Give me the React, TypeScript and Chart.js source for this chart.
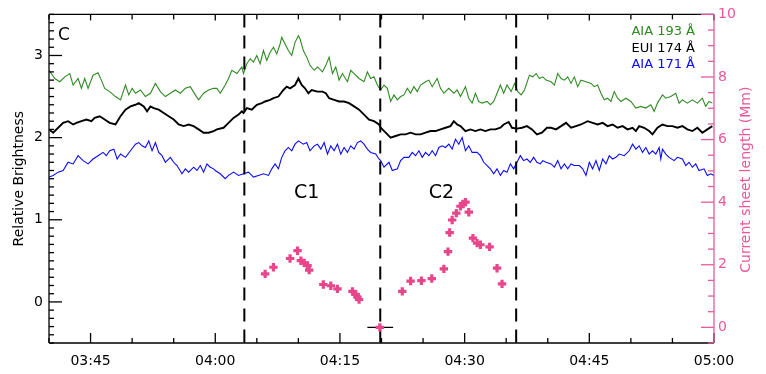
import React, { useEffect, useRef } from 'react';
import { Chart, registerables } from 'chart.js';
Chart.register(...registerables);

const FONT = '"DejaVu Sans", Verdana, sans-serif';
const GREEN = '#2f8a23';
const BLUE = '#0a0aff';
const PINK = '#e8468b';
const PINK_AXIS = '#e9589b';

// x = minutes after 03:40
const xTickTimes = [5, 20, 35, 50, 65, 80];
const xTickLabels = ['03:45', '04:00', '04:15', '04:30', '04:45', '05:00'];
const yTickValues = [0, 1, 2, 3];
const y2TickValues = [0, 2, 4, 6, 8, 10];
const eventTimes = [23.5, 39.85, 56.2];

const aia193: number[][] = [
  [0.0,2.82],[0.7,2.72],[1.3,2.68],[1.9,2.74],[2.5,2.78],[2.9,2.64],[3.5,2.72],[3.9,2.60],[4.3,2.72],[4.7,2.60],
  [5.3,2.76],[5.9,2.79],[6.3,2.70],[6.7,2.60],[7.3,2.56],[8.0,2.50],[8.6,2.46],[9.2,2.64],[9.6,2.52],[10.0,2.60],
  [10.4,2.54],[11.0,2.58],[11.6,2.50],[12.2,2.54],[12.8,2.66],[13.4,2.56],[14.0,2.50],[14.6,2.54],[15.2,2.58],[15.8,2.54],
  [16.4,2.60],[17.0,2.62],[17.6,2.52],[18.0,2.46],[18.6,2.54],[19.2,2.58],[19.8,2.60],[20.2,2.60],[20.6,2.54],[21.2,2.64],
  [21.6,2.72],[22.0,2.82],[22.6,2.78],[23.2,2.86],[23.4,2.78],[23.8,2.90],[24.2,2.96],[24.6,2.92],[25.0,3.00],[25.4,2.90],
  [25.8,3.06],[26.2,2.94],[26.6,3.04],[27.0,3.10],[27.4,3.02],[27.8,3.14],[28.0,3.22],[28.4,3.14],[28.8,3.06],[29.2,3.00],
  [29.6,3.16],[30.0,3.24],[30.2,3.20],[30.6,3.06],[31.0,2.98],[31.4,2.88],[31.9,2.82],[32.3,2.86],[32.9,2.80],[33.3,2.88],
  [33.7,2.98],[34.1,2.78],[34.5,2.86],[34.9,2.70],[35.3,2.78],[35.9,2.68],[36.3,2.82],[36.7,2.78],[37.3,2.72],[37.9,2.68],
  [38.3,2.80],[38.7,2.72],[39.1,2.74],[39.5,2.64],[39.9,2.58],[40.3,2.64],[40.7,2.60],[41.1,2.44],[41.5,2.52],[41.9,2.46],
  [42.3,2.50],[42.7,2.52],[43.1,2.60],[43.5,2.54],[43.9,2.62],[44.3,2.56],[44.7,2.64],[45.3,2.68],[45.7,2.70],[46.1,2.62],
  [46.7,2.72],[47.1,2.60],[47.5,2.54],[48.1,2.60],[48.7,2.54],[49.1,2.58],[49.5,2.50],[50.1,2.62],[50.5,2.48],[50.9,2.42],
  [51.3,2.54],[51.7,2.44],[52.1,2.42],[52.7,2.44],[53.1,2.40],[53.5,2.44],[53.9,2.54],[54.3,2.64],[54.7,2.54],[55.1,2.64],
  [55.6,2.56],[56.0,2.66],[56.4,2.56],[56.8,2.52],[57.2,2.58],[57.8,2.76],[58.2,2.74],[58.6,2.78],[59.0,2.72],[59.4,2.74],
  [59.8,2.70],[60.4,2.68],[60.8,2.64],[61.2,2.78],[61.6,2.72],[62.0,2.70],[62.4,2.74],[62.8,2.66],[63.2,2.74],[63.6,2.62],
  [64.0,2.70],[64.6,2.68],[65.2,2.66],[65.6,2.62],[66.0,2.64],[66.4,2.54],[66.8,2.46],[67.2,2.48],[67.6,2.44],[68.0,2.56],
  [68.4,2.48],[68.8,2.44],[69.4,2.48],[70.0,2.44],[70.6,2.36],[71.2,2.38],[71.8,2.36],[72.4,2.40],[72.8,2.32],[73.2,2.42],
  [73.8,2.52],[74.2,2.48],[74.8,2.50],[75.4,2.54],[75.8,2.42],[76.2,2.46],[76.8,2.42],[77.4,2.46],[78.0,2.42],[78.6,2.48],
  [79.0,2.38],[79.4,2.44],[79.8,2.42]
];

const eui174: number[][] = [
  [0.0,2.10],[0.5,2.06],[1.1,2.12],[1.7,2.18],[2.3,2.20],[2.9,2.16],[3.3,2.18],[3.9,2.20],[4.5,2.22],[5.1,2.20],
  [5.5,2.24],[6.1,2.26],[6.7,2.22],[7.3,2.18],[8.0,2.16],[8.6,2.26],[9.2,2.34],[9.8,2.38],[10.4,2.40],[10.8,2.42],
  [11.4,2.38],[11.8,2.32],[12.2,2.38],[12.6,2.36],[13.2,2.34],[13.8,2.30],[14.4,2.26],[15.0,2.22],[15.6,2.16],[16.2,2.14],
  [16.8,2.16],[17.4,2.14],[18.0,2.10],[18.6,2.06],[19.2,2.06],[19.8,2.08],[20.2,2.10],[21.0,2.12],[21.6,2.18],[22.2,2.24],
  [22.8,2.28],[23.2,2.32],[23.4,2.30],[23.8,2.36],[24.4,2.34],[25.0,2.40],[25.6,2.42],[26.0,2.44],[26.6,2.46],[27.0,2.48],
  [27.6,2.50],[28.2,2.58],[28.6,2.62],[29.0,2.60],[29.6,2.64],[30.0,2.72],[30.4,2.64],[30.8,2.60],[31.2,2.54],[31.6,2.58],
  [32.3,2.56],[32.9,2.56],[33.3,2.54],[33.7,2.48],[34.3,2.46],[34.9,2.44],[35.5,2.44],[36.1,2.42],[36.7,2.38],[37.3,2.34],
  [37.9,2.28],[38.5,2.22],[39.1,2.20],[39.7,2.16],[39.9,2.12],[40.5,2.06],[41.1,2.00],[41.7,2.02],[42.3,2.04],[42.9,2.04],
  [43.5,2.06],[44.1,2.04],[44.7,2.04],[45.3,2.06],[45.9,2.08],[46.5,2.08],[47.1,2.10],[47.7,2.12],[48.3,2.14],[48.7,2.20],
  [49.1,2.16],[49.5,2.14],[50.1,2.08],[50.7,2.10],[51.3,2.08],[51.9,2.10],[52.5,2.08],[53.1,2.10],[53.7,2.10],[54.3,2.12],
  [54.7,2.16],[55.3,2.19],[55.7,2.12],[56.3,2.11],[56.9,2.12],[57.5,2.14],[58.1,2.10],[58.7,2.04],[59.3,2.06],[59.9,2.12],
  [60.4,2.12],[61.0,2.10],[61.6,2.14],[62.2,2.18],[62.8,2.12],[63.4,2.14],[64.0,2.16],[64.8,2.20],[65.4,2.18],[66.0,2.16],
  [66.6,2.18],[67.2,2.14],[67.8,2.16],[68.4,2.12],[69.0,2.14],[69.6,2.10],[70.2,2.12],[70.6,2.08],[71.0,2.14],[71.6,2.12],
  [72.2,2.08],[72.6,2.04],[73.2,2.12],[73.8,2.16],[74.4,2.14],[75.0,2.14],[75.6,2.12],[76.2,2.14],[76.8,2.10],[77.4,2.08],
  [78.0,2.12],[78.6,2.06],[79.2,2.10],[79.8,2.14]
];

const aia171: number[][] = [
  [0.0,1.52],[0.5,1.54],[1.1,1.58],[1.7,1.60],[2.3,1.70],[2.9,1.68],[3.5,1.78],[4.1,1.72],[4.7,1.68],[5.3,1.74],
  [5.9,1.78],[6.5,1.82],[6.9,1.78],[7.3,1.84],[7.8,1.86],[8.2,1.74],[8.6,1.80],[9.2,1.76],[9.8,1.84],[10.4,1.92],
  [10.8,1.94],[11.2,1.90],[11.6,1.88],[12.0,1.96],[12.4,1.84],[12.8,1.94],[13.2,1.82],[13.6,1.78],[14.0,1.70],[14.6,1.76],
  [15.0,1.70],[15.4,1.66],[16.0,1.56],[16.4,1.62],[16.8,1.58],[17.4,1.64],[17.8,1.60],[18.2,1.66],[18.6,1.58],[19.0,1.68],
  [19.4,1.64],[19.8,1.62],[20.0,1.60],[20.6,1.56],[21.2,1.50],[21.6,1.54],[22.2,1.58],[22.8,1.54],[23.4,1.56],[24.0,1.58],
  [24.6,1.52],[25.2,1.54],[25.8,1.56],[26.4,1.54],[26.8,1.62],[27.2,1.68],[27.6,1.62],[28.0,1.76],[28.4,1.84],[28.8,1.88],
  [29.2,1.84],[29.6,1.92],[30.0,1.96],[30.6,1.92],[31.0,1.94],[31.4,1.84],[31.9,1.90],[32.3,1.92],[32.7,1.86],[33.1,1.94],
  [33.5,1.80],[33.9,1.90],[34.3,1.84],[34.7,1.92],[35.1,1.80],[35.5,1.88],[35.9,1.82],[36.3,1.90],[36.7,1.86],[37.1,1.94],
  [37.5,1.96],[37.9,1.92],[38.3,1.86],[38.7,1.82],[39.3,1.80],[39.7,1.74],[39.9,1.72],[40.3,1.64],[40.9,1.70],[41.3,1.60],
  [41.9,1.62],[42.3,1.72],[42.7,1.76],[43.3,1.76],[43.7,1.82],[44.1,1.78],[44.5,1.84],[44.9,1.76],[45.3,1.82],[45.7,1.78],
  [46.1,1.84],[46.5,1.78],[46.9,1.88],[47.3,1.90],[47.7,1.88],[48.1,1.92],[48.5,1.86],[48.9,1.98],[49.3,1.92],[49.7,2.00],
  [50.1,1.84],[50.5,1.90],[50.9,1.82],[51.5,1.82],[51.9,1.78],[52.3,1.70],[52.7,1.66],[53.1,1.62],[53.5,1.56],[53.9,1.62],
  [54.3,1.54],[54.7,1.60],[55.1,1.58],[55.5,1.68],[55.9,1.62],[56.3,1.70],[56.7,1.78],[57.1,1.72],[57.5,1.74],[57.9,1.70],
  [58.3,1.76],[58.7,1.70],[59.1,1.68],[59.4,1.72],[59.8,1.70],[60.4,1.68],[60.8,1.64],[61.2,1.72],[61.6,1.62],[62.0,1.68],
  [62.4,1.62],[62.8,1.68],[63.2,1.66],[63.8,1.66],[64.2,1.62],[64.6,1.54],[65.0,1.70],[65.4,1.62],[65.8,1.72],[66.2,1.60],
  [66.6,1.74],[67.0,1.68],[67.4,1.78],[67.8,1.74],[68.2,1.76],[68.6,1.80],[69.2,1.78],[69.8,1.84],[70.2,1.92],[70.6,1.86],
  [71.0,1.90],[71.4,1.82],[71.8,1.88],[72.2,1.80],[72.6,1.84],[73.0,1.80],[73.4,1.88],[73.6,1.74],[73.8,1.86],[74.2,1.80],
  [74.6,1.76],[75.2,1.72],[75.6,1.76],[76.2,1.74],[76.6,1.66],[77.0,1.70],[77.4,1.64],[77.8,1.68],[78.2,1.60],[78.8,1.62],
  [79.2,1.54],[79.6,1.56],[80.0,1.54]
];

// current sheet length (Mm)
const sheetLength: number[][] = [
  [26.0,1.71],[27.0,1.92],[29.0,2.20],[29.9,2.45],[30.3,2.13],[30.7,2.06],[31.1,1.97],[31.3,1.83],[33.0,1.37],[33.9,1.33],
  [34.7,1.23],[36.5,1.15],[36.9,1.05],[37.1,0.97],[37.3,0.89],[39.8,0.0],[42.5,1.15],[43.5,1.48],[44.8,1.49],[46.05,1.56],
  [47.5,1.87],[48.0,2.42],[48.2,3.03],[48.5,3.43],[49.0,3.65],[49.5,3.87],[49.8,3.94],[50.1,4.0],[50.5,3.68],[51.0,2.85],
  [51.5,2.69],[51.9,2.64],[53.0,2.57],[53.9,1.89],[54.5,1.39]
];
const zeroErrorBar: number[][] = [[38.3, 0], [41.4, 0]];

const toXY = (arr: number[][]) => arr.map(([x, y]) => ({ x, y }));

const decorPlugin = {
  id: 'decor',
  afterDraw(chart: any) {
    const { ctx, chartArea: a, scales } = chart;
    const sx = scales.x, sy = scales.y, sy2 = scales.y2;
    const seg = (x1: number, y1: number, x2: number, y2: number) => {
      ctx.beginPath(); ctx.moveTo(x1, y1); ctx.lineTo(x2, y2); ctx.stroke();
    };
    ctx.save();
    ctx.lineWidth = 1.3;
    ctx.strokeStyle = '#000';
    seg(a.left, a.top, a.left, a.bottom);
    seg(a.left, a.bottom, a.right, a.bottom);
    seg(a.left, a.top, a.right, a.top);
    sx.ticks.forEach((tk: any) => {
      const px = sx.getPixelForValue(tk.value);
      const major = xTickTimes.includes(tk.value);
      seg(px, a.bottom, px, a.bottom - (major ? 10 : 5));
      seg(px, a.top, px, a.top + (major ? 6 : 5));
    });
    sy.ticks.forEach((tk: any) => {
      const py = sy.getPixelForValue(tk.value);
      const major = yTickValues.some(v => Math.abs(v - tk.value) < 1e-6);
      seg(a.left, py, a.left + (major ? 13 : 5), py);
    });
    ctx.strokeStyle = PINK_AXIS;
    seg(a.right, a.top, a.right, a.bottom);
    sy2.ticks.forEach((tk: any) => {
      const py = sy2.getPixelForValue(tk.value);
      const major = y2TickValues.some(v => Math.abs(v - tk.value) < 1e-6);
      seg(a.right, py, a.right - (major ? 13 : 6), py);
    });

    // texts
    ctx.textBaseline = 'alphabetic';
    ctx.fillStyle = '#000';
    ctx.font = `17px ${FONT}`;
    ctx.textAlign = 'left';
    ctx.fillText('C', a.left + 9, a.top + 26);

    ctx.font = `13px ${FONT}`;
    ctx.textAlign = 'right';
    ctx.fillStyle = GREEN; ctx.fillText('AIA 193 Å', a.right - 19, a.top + 21);
    ctx.fillStyle = '#000'; ctx.fillText('EUI 174 Å', a.right - 19, a.top + 37.5);
    ctx.fillStyle = BLUE; ctx.fillText('AIA 171 Å', a.right - 19, a.top + 54);

    ctx.font = `19px ${FONT}`;
    ctx.textAlign = 'center';
    ctx.fillStyle = '#000';
    ctx.fillText('C1', sx.getPixelForValue(31.0), a.top + 184);
    ctx.fillText('C2', sx.getPixelForValue(47.2), a.top + 184);

    ctx.font = `14px ${FONT}`;
    ctx.textBaseline = 'middle';
    const cy = (a.top + a.bottom) / 2;
    ctx.save();
    ctx.translate(19, cy);
    ctx.rotate(-Math.PI / 2);
    ctx.fillStyle = '#000';
    ctx.fillText('Relative Brightness', 0, 0);
    ctx.restore();
    ctx.save();
    ctx.translate(a.right + 32, cy + 1);
    ctx.rotate(-Math.PI / 2);
    ctx.fillStyle = PINK_AXIS;
    ctx.fillText('Current sheet length (Mm)', 0, 0);
    ctx.restore();
    ctx.restore();
  },
};

export default function App() {
  const ref = useRef<HTMLCanvasElement>(null);
  useEffect(() => {
    if (!ref.current) return;
    const lineDs = (label: string, data: number[][], color: string, width: number, order: number) => ({
      type: 'line' as const, label, data: toXY(data), borderColor: color, backgroundColor: color,
      borderWidth: width, pointRadius: 0, tension: 0, yAxisID: 'y', order,
    });
    const datasets: any[] = [
      {
        type: 'scatter', label: 'Current sheet length', data: toXY(sheetLength), yAxisID: 'y2',
        pointStyle: 'cross', pointRadius: 4.2, borderWidth: 3.2, borderColor: PINK, backgroundColor: PINK, order: 0,
      },
      {
        type: 'line', label: 'error', data: toXY(zeroErrorBar), yAxisID: 'y2', borderColor: '#000',
        borderWidth: 1.2, pointRadius: 0, order: 1,
      },
      ...eventTimes.map((t, i) => ({
        type: 'line', label: 'event' + i, data: [{ x: t, y: 3.5 }, { x: t, y: -0.5 }], yAxisID: 'y',
        borderColor: '#000', borderWidth: 2, borderDash: [13, 8], pointRadius: 0, order: 2,
      })),
      lineDs('EUI 174 Å', eui174, '#000', 1.9, 3),
      lineDs('AIA 193 Å', aia193, GREEN, 1.1, 4),
      lineDs('AIA 171 Å', aia171, BLUE, 1.1, 5),
    ];
    const chart = new Chart(ref.current, {
      type: 'line',
      data: { datasets },
      options: {
        animation: false,
        responsive: false,
        layout: { padding: { top: 11, left: 0, right: 0, bottom: 0 } },
        plugins: { legend: { display: false }, tooltip: { enabled: false } },
        scales: {
          x: {
            type: 'linear', min: 0, max: 80,
            grid: { display: false, drawTicks: false }, border: { display: false },
            afterFit: (s: any) => { s.height = 31; },
            ticks: {
              stepSize: 5, autoSkip: false, maxRotation: 0, padding: 10, maxTicksLimit: 1000,
              font: { family: FONT, size: 14 }, color: '#000',
              callback: (v: any) => { const i = xTickTimes.indexOf(Number(v)); return i >= 0 ? xTickLabels[i] : ''; },
            },
          },
          y: {
            type: 'linear', position: 'left', min: -0.5, max: 3.5,
            grid: { display: false, drawTicks: false }, border: { display: false },
            afterFit: (s: any) => { s.width = 49; },
            ticks: {
              stepSize: 0.1, autoSkip: false, padding: 6, maxTicksLimit: 1000,
              font: { family: FONT, size: 14 }, color: '#000',
              callback: (v: any) => { const n = Number(v); const m = yTickValues.find(t => Math.abs(t - n) < 1e-6); return m !== undefined ? String(m) : ''; },
            },
          },
          y2: {
            type: 'linear', position: 'right', min: -0.5, max: 10,
            grid: { display: false, drawTicks: false }, border: { display: false },
            afterFit: (s: any) => { s.width = 52; },
            ticks: {
              stepSize: 0.5, autoSkip: false, padding: 4, maxTicksLimit: 1000,
              font: { family: FONT, size: 14 }, color: PINK_AXIS,
              callback: (v: any) => { const n = Number(v); const m = y2TickValues.find(t => Math.abs(t - n) < 1e-6); return m !== undefined ? String(m) : ''; },
            },
          },
        },
      },
      plugins: [decorPlugin],
    } as any);
    return () => chart.destroy();
  }, []);
  return (
    <div style={{ position: 'absolute', left: 0, top: 0, width: 766, height: 374, background: '#fff' }}>
      <canvas ref={ref} width={766} height={374} style={{ display: 'block' }} />
    </div>
  );
}
